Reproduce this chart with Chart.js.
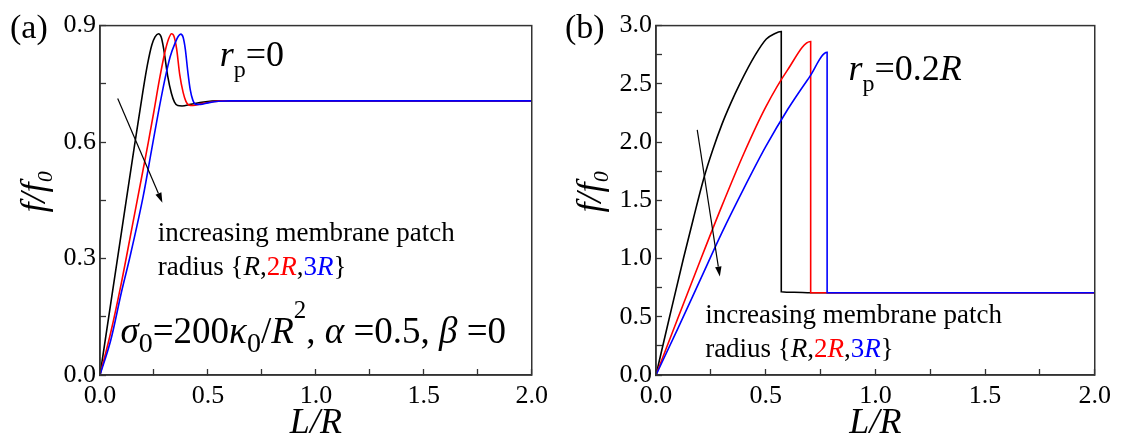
<!DOCTYPE html>
<html>
<head>
<meta charset="utf-8">
<script src="https://cdn.jsdelivr.net/npm/chart.js@4.4.0/dist/chart.umd.min.js"></script>
<style>
  html, body { margin: 0; padding: 0; background: #ffffff; }
  #wrap { position: relative; width: 1123px; height: 441px; overflow: hidden; }
  .pane { position: absolute; top: 0; }
  #fontprobe { position: absolute; left: -2000px; top: 0; font-family: "Liberation Serif", "DejaVu Serif", serif; font-size: 20px; }
</style>
</head>
<body>
<div id="fontprobe">0.5 <i>L/R f</i> radius</div>
<div id="wrap">
  <div class="pane" style="left:0;width:560px;height:441px"><canvas id="chartA" width="560" height="441"></canvas></div>
  <div class="pane" style="left:560px;width:563px;height:441px"><canvas id="chartB" width="563" height="441"></canvas></div>
</div>
<script>
// ---------------- data ----------------
const xTickLabels = [0.0, 0.5, 1.0, 1.5, 2.0];
const yTickLabelsA = [0.0, 0.3, 0.6, 0.9];
const yTickLabelsB = [0.0, 0.5, 1.0, 1.5, 2.0, 2.5, 3.0];
const seriesNames = ['R', '2R', '3R'];
const seriesColors = ['#000000', '#ff0000', '#0000ff'];

// panel (a): r_p = 0
const aL_R  = [0, 0.05, 0.1, 0.15, 0.2, 0.22, 0.24, 0.255, 0.271, 0.283, 0.295, 0.313, 0.331, 0.345, 0.36, 0.38, 0.42, 0.48, 0.55, 2.0];
const aF_R  = [0, 0.185, 0.37, 0.555, 0.735, 0.80, 0.85, 0.871, 0.879, 0.871, 0.84, 0.772, 0.725, 0.703, 0.694, 0.693, 0.697, 0.703, 0.706, 0.706];
const aL_2R = [0, 0.05, 0.1, 0.15, 0.2, 0.224, 0.25, 0.275, 0.3, 0.318, 0.331, 0.343, 0.355, 0.369, 0.385, 0.398, 0.41, 0.43, 0.47, 0.52, 0.57, 2.0];
const aF_2R = [0, 0.11, 0.24, 0.385, 0.53, 0.60, 0.68, 0.76, 0.83, 0.866, 0.879, 0.872, 0.84, 0.775, 0.728, 0.705, 0.696, 0.694, 0.699, 0.704, 0.706, 0.706];
const aL_3R = [0, 0.05, 0.1, 0.137, 0.2, 0.239, 0.27, 0.3, 0.325, 0.35, 0.362, 0.374, 0.385, 0.395, 0.407, 0.418, 0.43, 0.445, 0.465, 0.5, 0.55, 0.6, 2.0];
const aF_3R = [0, 0.09, 0.215, 0.30, 0.46, 0.58, 0.675, 0.76, 0.82, 0.858, 0.872, 0.878, 0.87, 0.84, 0.78, 0.735, 0.708, 0.697, 0.697, 0.701, 0.705, 0.706, 0.706];

// panel (b): r_p = 0.2R
const bL_R  = [0, 0.062, 0.125, 0.17, 0.218, 0.26, 0.30, 0.34, 0.382, 0.45, 0.503, 0.54, 0.571, 0.5711, 0.63, 0.706, 2.0];
const bF_R  = [0, 0.5, 1.0, 1.34, 1.69, 1.94, 2.15, 2.33, 2.5, 2.74, 2.885, 2.93, 2.949, 0.715, 0.71, 0.706, 0.706];
const bL_2R = [0, 0.1, 0.2, 0.3, 0.4, 0.5, 0.6, 0.705, 0.7051, 2.0];
const bF_2R = [0, 0.49, 0.975, 1.45, 1.9, 2.3, 2.62, 2.863, 0.706, 0.706];
const bL_3R = [0, 0.1, 0.2, 0.3, 0.4, 0.5, 0.6, 0.7, 0.78, 0.7801, 2.0];
const bF_3R = [0, 0.40, 0.81, 1.22, 1.6, 1.96, 2.28, 2.56, 2.771, 0.706, 0.706];

// ---------------- helpers ----------------
const SERIF = '"Liberation Serif", "Times New Roman", Tinos, "DejaVu Serif", "Noto Serif", serif';
const AXIS_COLOR = '#333333';

function xy(xs, ys) { return xs.map((v, i) => ({ x: v, y: ys[i] })); }
function labelIf(list) {
  return (v) => {
    const m = list.find(t => Math.abs(t - v) < 1e-9);
    return m === undefined ? '' : m.toFixed(1);
  };
}
function makeDatasets(series) {
  return series.map((s, i) => ({
    label: seriesNames[i],
    data: xy(s[0], s[1]),
    borderColor: seriesColors[i],
    borderWidth: 1.6,
    pointRadius: 0,
    fill: false,
    cubicInterpolationMode: 'monotone',
    order: 3 - i
  }));
}

function drawRich(ctx, x, y, parts) {
  let cx = x;
  for (const p of parts) {
    ctx.font = p.font;
    ctx.fillStyle = p.color || '#000';
    ctx.textBaseline = 'alphabetic';
    ctx.textAlign = 'left';
    ctx.fillText(p.t, cx, y + (p.dy || 0));
    cx += ctx.measureText(p.t).width + (p.kern || 0);
  }
}
function drawArrow(ctx, x1, y1, x2, y2) {
  ctx.save();
  ctx.strokeStyle = '#000'; ctx.fillStyle = '#000'; ctx.lineWidth = 1.2;
  const ang = Math.atan2(y2 - y1, x2 - x1);
  const hl = 10, hw = 3.2;
  const bx = x2 - hl * Math.cos(ang), by = y2 - hl * Math.sin(ang);
  ctx.beginPath(); ctx.moveTo(x1, y1); ctx.lineTo(bx, by); ctx.stroke();
  ctx.beginPath();
  ctx.moveTo(x2, y2);
  ctx.lineTo(bx + hw * Math.sin(ang), by - hw * Math.cos(ang));
  ctx.lineTo(bx - hw * Math.sin(ang), by + hw * Math.cos(ang));
  ctx.closePath(); ctx.fill();
  ctx.restore();
}

const f = (size, style) => (style ? style + ' ' : '') + size + 'px ' + SERIF;

// annotation specs, positions in data units of each panel
const annotations = {
  chartA: {
    panel: '(a)', panelX: 10, panelY: 38,
    rp: [{ t: 'r', font: f(36, 'italic') }, { t: 'p', font: f(24), dy: 11 }, { t: '=0', font: f(36) }],
    rpAt: [0.555, 0.795],
    arrow: [0.082, 0.712, 0.289, 0.444],
    text1At: [0.268, 0.345], text2At: [0.268, 0.258],
    sigmaAt: [0.095, 0.083]
  },
  chartB: {
    panel: '(b)', panelX: 5, panelY: 38,
    rp: [{ t: 'r', font: f(36, 'italic') }, { t: 'p', font: f(24), dy: 11 }, { t: '=0.2', font: f(36) }, { t: 'R', font: f(36, 'italic') }],
    rpAt: [0.877, 2.535],
    arrow: [0.188, 2.104, 0.291, 0.845],
    text1At: [0.224, 0.45], text2At: [0.224, 0.155],
    sigmaAt: null
  }
};

const annotPlugin = {
  id: 'annot',
  afterDraw(chart) {
    const spec = annotations[chart.canvas.id];
    const { ctx, chartArea: ca } = chart;
    const sx = chart.scales.x, sy = chart.scales.y;
    const px = v => sx.getPixelForValue(v), py = v => sy.getPixelForValue(v);
    ctx.save();
    ctx.strokeStyle = AXIS_COLOR; ctx.lineWidth = 1.5;
    ctx.strokeRect(ca.left, ca.top, ca.right - ca.left, ca.bottom - ca.top);
    drawRich(ctx, spec.panelX, spec.panelY, [{ t: spec.panel, font: f(34) }]);
    drawRich(ctx, px(spec.rpAt[0]), py(spec.rpAt[1]), spec.rp);
    drawArrow(ctx, px(spec.arrow[0]), py(spec.arrow[1]), px(spec.arrow[2]), py(spec.arrow[3]));
    const tf = f(27), tfi = f(27, 'italic');
    drawRich(ctx, px(spec.text1At[0]), py(spec.text1At[1]), [{ t: 'increasing membrane patch', font: tf }]);
    drawRich(ctx, px(spec.text2At[0]), py(spec.text2At[1]), [
      { t: 'radius {', font: tf },
      { t: 'R', font: tfi, color: seriesColors[0] },
      { t: ',', font: tf },
      { t: '2', font: tf, color: seriesColors[1] },
      { t: 'R', font: tfi, color: seriesColors[1] },
      { t: ',', font: tf },
      { t: '3', font: tf, color: seriesColors[2] },
      { t: 'R', font: tfi, color: seriesColors[2] },
      { t: '}', font: tf }
    ]);
    if (spec.sigmaAt) {
      const m = f(37), mi = f(37, 'italic'), s = f(28);
      drawRich(ctx, px(spec.sigmaAt[0]), py(spec.sigmaAt[1]), [
        { t: 'σ', font: mi }, { t: '0', font: s, dy: 9 }, { t: '=200', font: m },
        { t: 'κ', font: mi }, { t: '0', font: s, dy: 9 }, { t: '/', font: m },
        { t: 'R', font: mi }, { t: '2', font: f(25), dy: -25 }, { t: ', ', font: m },
        { t: 'α', font: mi }, { t: ' =0.5, ', font: m }, { t: 'β', font: mi }, { t: ' =0', font: m }
      ]);
    }
    ctx.restore();
  }
};

function makeOptions(yMax, yStep, yLabels, yWidth, padRight, yTitlePad) {
  const tickFont = { family: SERIF, size: 26 };
  return {
    responsive: false,
    animation: false,
    events: [],
    layout: { padding: { top: 20, right: padRight, left: 0, bottom: 0 } },
    plugins: { legend: { display: false }, tooltip: { enabled: false } },
    scales: {
      x: {
        type: 'linear', position: 'bottom', min: 0, max: 2,
        afterFit: (s) => { s.height = 66; },
        border: { display: true, color: AXIS_COLOR, width: 1.5 },
        grid: { drawOnChartArea: false, drawTicks: true, tickLength: -6, color: AXIS_COLOR, tickWidth: 1.3 },
        ticks: { stepSize: 0.25, autoSkip: false, maxRotation: 0, color: '#000', font: tickFont, padding: 12, callback: labelIf(xTickLabels) },
        title: { display: true, text: 'L/R', color: '#000', font: { family: SERIF, size: 36, style: 'italic' }, padding: { top: 0, bottom: -4 } }
      },
      y: {
        type: 'linear', position: 'left', min: 0, max: yMax,
        afterFit: (s) => { s.width = yWidth; },
        border: { display: true, color: AXIS_COLOR, width: 1.5 },
        grid: { drawOnChartArea: false, drawTicks: true, tickLength: -6, color: AXIS_COLOR, tickWidth: 1.3 },
        ticks: { stepSize: yStep, autoSkip: false, color: '#000', font: tickFont, padding: 10, callback: labelIf(yLabels) },
        title: { display: true, text: '  f/f\u2080', color: '#000', font: { family: SERIF, size: 36, style: 'italic' }, padding: { top: yTitlePad, bottom: 0 } }
      }
    }
  };
}

function build() {
  new Chart(document.getElementById('chartA'), {
    type: 'line',
    data: { datasets: makeDatasets([[aL_R, aF_R], [aL_2R, aF_2R], [aL_3R, aF_3R]]) },
    options: makeOptions(0.9, 0.15, yTickLabelsA, 100, 20, 14),
    plugins: [annotPlugin]
  });
  new Chart(document.getElementById('chartB'), {
    type: 'line',
    data: { datasets: makeDatasets([[bL_R, bF_R], [bL_2R, bF_2R], [bL_3R, bF_3R]]) },
    options: makeOptions(3.0, 0.25, yTickLabelsB, 96, 27, 10),
    plugins: [annotPlugin]
  });
}

const fontLoads = [
  '24px "Liberation Serif"', 'italic 24px "Liberation Serif"',
  '24px "DejaVu Serif"', 'italic 24px "DejaVu Serif"'
].map(s => document.fonts.load(s).catch(() => null));
Promise.all(fontLoads).then(() => document.fonts.ready).then(build, build);
</script>
</body>
</html>
